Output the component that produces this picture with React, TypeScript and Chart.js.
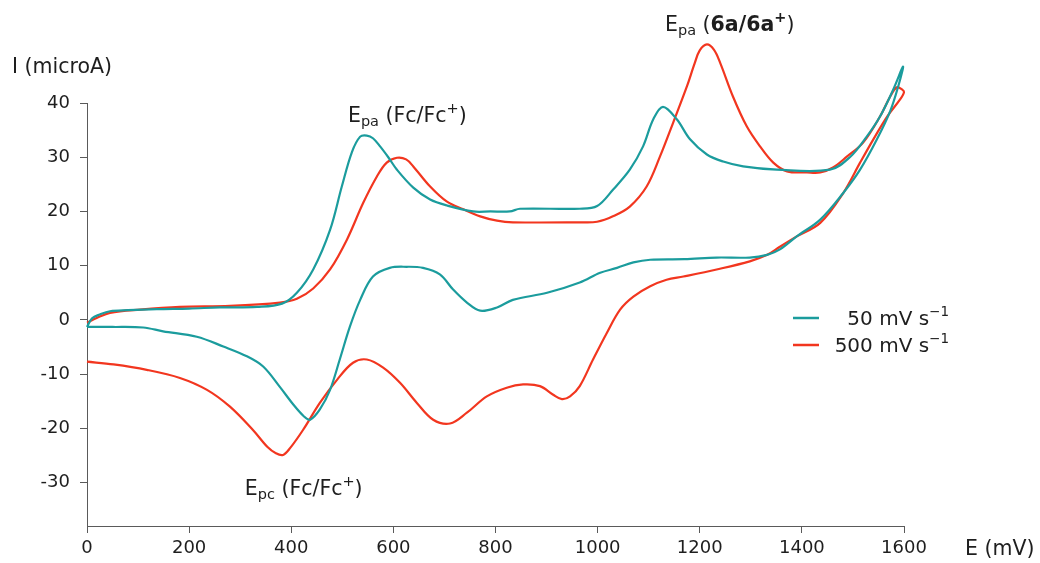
import React, { useEffect, useRef } from 'react';
import { Chart, registerables } from 'chart.js';

Chart.register(...registerables);

// 50 mV/s scan (forward then reverse), potential in mV
const tealE = [
  0, 10, 25, 45, 80, 137, 200, 260, 333, 382, 411, 443, 476, 499, 519, 535, 548, 560, 574, 590,
  607, 639, 672, 705, 756, 790, 828, 848, 965, 999, 1030, 1063, 1089, 1109, 1128, 1155, 1181, 1214,
  1246, 1285, 1351, 1455, 1494, 1527, 1553, 1579, 1598,
  1590, 1573, 1547, 1514, 1481, 1436, 1390, 1357, 1332, 1298, 1233, 1170, 1103, 1070, 1038, 1005,
  965, 901, 834, 803, 770, 744, 717, 691, 658, 626, 593, 560, 535, 515, 495, 476, 456, 437, 425,
  404, 378, 345, 313, 267, 215, 149, 110, 50, 0,
];
const tealI = [
  -1.3, 0.3, 1.0, 1.6, 1.8, 2.0, 2.1, 2.3, 2.4, 3.0, 5.0, 9.3, 16.6, 24.6, 31.0, 33.8, 34.0, 33.5, 32.0, 30.0,
  27.7, 24.4, 22.2, 21.1, 20.0, 20.0, 20.0, 20.5, 20.5, 21.0, 24.0, 27.7, 32.0, 37.0, 39.3, 37.0, 33.3, 30.5,
  29.2, 28.3, 27.7, 27.7, 30.0, 33.8, 37.5, 42.5, 46.7,
  43.5, 38.5, 33.3, 27.7, 23.4, 18.5, 15.4, 13.0, 12.0, 11.5, 11.5, 11.2, 11.1, 10.6, 9.6, 8.7,
  6.9, 5.0, 3.7, 2.3, 1.7, 3.2, 5.6, 8.4, 9.6, 9.8, 9.6, 8.0, 3.7, -1.2, -7.3, -12.9, -16.5, -18.4, -17.8,
  -15.6, -12.4, -8.6, -6.7, -4.9, -3.1, -2.1, -1.4, -1.3, -1.3,
];

// 500 mV/s scan (forward then reverse)
const redE = [
  0, 20, 45, 104, 182, 280, 378, 411, 443, 476, 509, 541, 568, 587, 607, 625, 639, 672, 705, 737,
  770, 803, 834, 965, 999, 1030, 1063, 1096, 1122, 1148, 1175, 1190, 1200, 1214, 1228, 1240, 1265, 1292, 1318,
  1344, 1371, 1410, 1436, 1461, 1488, 1520, 1553, 1573, 1586, 1596, 1600,
  1592, 1567, 1540, 1514, 1481, 1436, 1390, 1357, 1332, 1298, 1233, 1168, 1135, 1103, 1070, 1044,
  1018, 991, 965, 946, 930, 913, 887, 854, 822, 783, 744, 711, 678, 646, 613, 580, 548, 521, 490,
  456, 423, 398, 384, 370, 353, 325, 280, 235, 182, 117, 52, 0,
];
const redI = [
  -0.5, 0.4, 1.3, 1.9, 2.4, 2.6, 3.2, 3.9, 5.8, 9.3, 14.8, 21.6, 26.5, 29.0, 29.9, 29.6, 28.3, 24.6, 21.8, 20.4,
  19.1, 18.3, 18.0, 18.0, 18.1, 19.1, 20.9, 24.6, 30.1, 36.4, 43.1, 47.3, 49.7, 50.8, 49.8, 47.4, 41.2, 35.7, 32.0,
  29.0, 27.4, 27.2, 27.2, 28.1, 30.1, 32.7, 37.5, 41.2, 42.9, 42.5, 42.0,
  40.6, 37.5, 33.3, 29.0, 23.4, 17.9, 15.4, 13.5, 12.0, 10.8, 9.3, 8.0, 7.4, 6.2, 4.3, 1.9,
  -2.4, -7.3, -12.2, -14.1, -14.6, -13.8, -12.2, -11.9, -12.5, -14.1, -17.1, -19.1, -18.4, -15.3, -11.6, -8.8, -7.3, -7.9, -11.0,
  -15.3, -20.3, -23.6, -24.9, -24.6, -23.4, -20.3, -16.0, -12.9, -10.7, -9.2, -8.2, -7.7,
];

const xTickValues = [0, 200, 400, 600, 800, 1000, 1200, 1400, 1600];
const yTickValues = [-30, -20, -10, 0, 10, 20, 30, 40];
const xRange = [0, 1600];
const yRange = [-38, 40];
const seriesNames = ['50 mV s', '500 mV s'];
const xTitle = 'E (mV)';
const yTitle = 'I (microA)';

const TEAL = '#1b9c9d';
const RED = '#f2361f';
const AXIS = '#5a5a5a';
const TEXT = '#1e1e1e';
const FAMILY = '"DejaVu Sans", Verdana, sans-serif';

type Part = { t: string; size: number; bold?: boolean; dy?: number };

function drawRich(ctx: CanvasRenderingContext2D, parts: Part[], x: number, y: number, align: 'left' | 'right' = 'left') {
  ctx.save();
  ctx.textBaseline = 'alphabetic';
  ctx.textAlign = 'left';
  ctx.fillStyle = TEXT;
  const fontOf = (p: Part) => `${p.bold ? 'bold ' : ''}${p.size}px ${FAMILY}`;
  let total = 0;
  const widths = parts.map((p) => {
    ctx.font = fontOf(p);
    const w = ctx.measureText(p.t).width;
    total += w;
    return w;
  });
  let cx = align === 'right' ? x - total : x;
  parts.forEach((p, i) => {
    ctx.font = fontOf(p);
    ctx.fillText(p.t, cx, y + (p.dy || 0));
    cx += widths[i];
  });
  ctx.restore();
}

const textPlugin = {
  id: 'cvText',
  afterDraw(chart: any) {
    const ctx = chart.ctx as CanvasRenderingContext2D;
    const xs = chart.scales.x;
    const ys = chart.scales.y;
    const area = chart.chartArea;
    const B = 20.5;
    const S = 14.5;
    // axis titles
    drawRich(ctx, [{ t: yTitle, size: B }], 12, area.top - 30);
    drawRich(ctx, [{ t: xTitle, size: B }], area.right + 61, area.bottom + 29);
    // peak annotations (anchored in data space)
    drawRich(
      ctx,
      [
        { t: 'E', size: B },
        { t: 'pa', size: S, dy: 4 },
        { t: ' (Fc/Fc', size: B },
        { t: '+', size: S, dy: -9 },
        { t: ')', size: B },
      ],
      xs.getPixelForValue(511),
      ys.getPixelForValue(36.5)
    );
    drawRich(
      ctx,
      [
        { t: 'E', size: B },
        { t: 'pa', size: S, dy: 4 },
        { t: ' (', size: B },
        { t: '6a/6a', size: B, bold: true },
        { t: '+', size: S, bold: true, dy: -9 },
        { t: ')', size: B },
      ],
      xs.getPixelForValue(1132),
      ys.getPixelForValue(53.2)
    );
    drawRich(
      ctx,
      [
        { t: 'E', size: B },
        { t: 'pc', size: S, dy: 4 },
        { t: ' (Fc/Fc', size: B },
        { t: '+', size: S, dy: -9 },
        { t: ')', size: B },
      ],
      xs.getPixelForValue(309),
      ys.getPixelForValue(-32.2)
    );
    // legend
    const colors = [TEAL, RED];
    const rowsY = [318, 345];
    const right = area.right + 45;
    seriesNames.forEach((name, i) => {
      ctx.save();
      ctx.strokeStyle = colors[i];
      ctx.lineWidth = 2.5;
      ctx.beginPath();
      ctx.moveTo(793, rowsY[i]);
      ctx.lineTo(819, rowsY[i]);
      ctx.stroke();
      ctx.restore();
      drawRich(
        ctx,
        [
          { t: name, size: 20 },
          { t: '\u22121', size: 13.5, dy: -9 },
        ],
        right,
        rowsY[i] + 7,
        'right'
      );
    });
  },
};

export default function App() {
  const ref = useRef<HTMLCanvasElement | null>(null);
  useEffect(() => {
    if (!ref.current) return;
    const toPts = (xs: number[], ys: number[]) => xs.map((x, i) => ({ x, y: ys[i] }));
    const chart = new Chart(ref.current, {
      type: 'scatter',
      data: {
        datasets: [
          {
            label: seriesNames[0],
            data: toPts(tealE, tealI),
            showLine: true,
            borderColor: TEAL,
            backgroundColor: TEAL,
            borderWidth: 2.2,
            pointRadius: 0,
            tension: 0.35,
            clip: false as any,
          },
          {
            label: seriesNames[1],
            data: toPts(redE, redI),
            showLine: true,
            borderColor: RED,
            backgroundColor: RED,
            borderWidth: 2.2,
            pointRadius: 0,
            tension: 0.35,
            clip: false as any,
          },
        ],
      },
      options: {
        animation: false,
        responsive: false,
        devicePixelRatio: 1,
        layout: { padding: { top: 103, right: 136, left: 0, bottom: 0 } },
        plugins: { legend: { display: false }, tooltip: { enabled: false } },
        scales: {
          x: {
            type: 'linear',
            min: xRange[0],
            max: xRange[1],
            afterBuildTicks: (s: any) => {
              s.ticks = xTickValues.map((value) => ({ value }));
            },
            afterFit: (s: any) => {
              s.height = 37;
            },
            ticks: {
              font: { family: FAMILY, size: 18 },
              color: TEXT,
              padding: 5,
              maxRotation: 0,
              autoSkip: false,
              callback: (v: any) => String(v),
            },
            grid: { drawOnChartArea: false, drawTicks: true, tickLength: 7, color: AXIS },
            border: { display: true, color: AXIS, width: 1 },
          },
          y: {
            type: 'linear',
            min: yRange[0],
            max: yRange[1],
            afterBuildTicks: (s: any) => {
              s.ticks = yTickValues.map((value) => ({ value }));
            },
            afterFit: (s: any) => {
              s.width = 87;
            },
            ticks: {
              font: { family: FAMILY, size: 18 },
              color: TEXT,
              padding: 10,
              autoSkip: false,
              callback: (v: any) => String(v),
            },
            grid: { drawOnChartArea: false, drawTicks: true, tickLength: 7, color: AXIS },
            border: { display: true, color: AXIS, width: 1 },
          },
        },
      } as any,
      plugins: [textPlugin],
    });
    return () => chart.destroy();
  }, []);
  return (
    <div style={{ position: 'fixed', left: 0, top: 0, width: 1040, height: 563, background: '#fff' }}>
      <canvas ref={ref} width={1040} height={563} style={{ display: 'block', width: 1040, height: 563 }} />
    </div>
  );
}
